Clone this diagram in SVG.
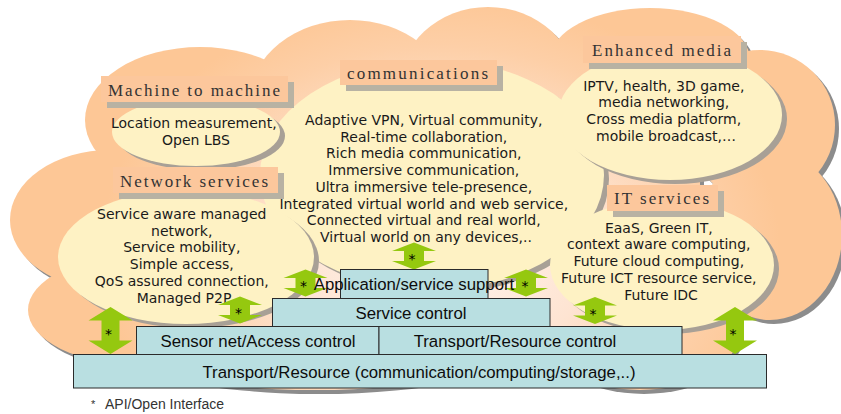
<svg xmlns="http://www.w3.org/2000/svg" xmlns:xlink="http://www.w3.org/1999/xlink" width="841" height="414" viewBox="0 0 841 414">
  <style>
    .lblbox { fill: #FCC79C; }
    .lblshadow { fill: #B8B2A3; }
    .lbl { font-family: "Liberation Serif", "DejaVu Serif", serif; font-size: 17px; fill: #333; }
    .bubble { fill: #FEF2C4; }
    .bshadow { fill: #A8A096; }
    .body { font-family: "DejaVu Sans", "Noto Sans", sans-serif; font-size: 14px; fill: #1a1a1a; text-anchor: middle; }
    .layer { fill: #B9DFE1; stroke: #2b2b2b; stroke-width: 1; }
    .ltxt { font-family: "Liberation Sans", Arial, sans-serif; font-size: 16.8px; fill: #0d0d0d; text-anchor: middle; }
    .arrow { fill: #95C80F; }
    .star { font-family: "DejaVu Sans", sans-serif; font-size: 14px; fill: #000; text-anchor: middle; }
    .note { font-family: "Liberation Sans", Arial, sans-serif; font-size: 14px; fill: #333; }
  </style>
  <defs>
    <radialGradient id="cloudFill" gradientUnits="userSpaceOnUse" cx="440" cy="250" r="340"
                    gradientTransform="translate(440 250) scale(1 0.75) translate(-440 -250)">
      <stop offset="0" stop-color="#FFF4EE"/>
      <stop offset="0.45" stop-color="#FEE4D2"/>
      <stop offset="0.8" stop-color="#FDCFA7"/>
      <stop offset="1" stop-color="#FDC796"/>
    </radialGradient>
    <!-- cloud outline built from overlapping lobes -->
    <g id="cloudShape">
      <ellipse cx="200" cy="120" rx="115" ry="73"/>
      <ellipse cx="350" cy="100" rx="100" ry="80"/>
      <ellipse cx="488" cy="90" rx="90" ry="83"/>
      <ellipse cx="650" cy="60" rx="100" ry="52"/>
      <ellipse cx="760" cy="125" rx="75" ry="75"/>
      <ellipse cx="770" cy="235" rx="72" ry="85"/>
      <ellipse cx="110" cy="220" rx="100" ry="70"/>
      <ellipse cx="140" cy="310" rx="112" ry="55"/>
      <ellipse cx="640" cy="330" rx="100" ry="60"/>
      <ellipse cx="315" cy="345" rx="200" ry="45"/>
      <rect x="118" y="100" width="582" height="282"/>
    </g>
    <path id="arrS" d="M0,-13.5 L22,-5 L10,-5 L10,5 L22,5 L0,13.5 L-22,5 L-10,5 L-10,-5 L-22,-5 Z"/>
    <path id="arrL" d="M0,-23.5 L22,-10 L9,-10 L9,10 L22,10 L0,23.5 L-22,10 L-9,10 L-9,-10 L-22,-10 Z"/>
  </defs>

  <!-- background cloud with drop shadow -->
  <g id="cloud">
    <use xlink:href="#cloudShape" fill="#8C8C8C" transform="translate(4 4)"/>
    <use xlink:href="#cloudShape" fill="url(#cloudFill)"/>
  </g>

  <!-- service bubbles -->
  <g id="communications">
    <ellipse class="bshadow" cx="437" cy="179" rx="172" ry="115"/>
    <ellipse class="bubble" cx="432" cy="175" rx="172" ry="115"/>
    <rect class="lblshadow" x="346" y="66" width="157" height="25"/>
    <rect class="lblbox" x="340" y="60" width="157" height="25"/>
    <text class="lbl" x="347" y="79" textLength="141" lengthAdjust="spacing">communications</text>
    <text class="body" x="426" y="125">
      <tspan x="426">Adaptive VPN, Virtual community,</tspan>
      <tspan x="426" dy="16.7">Real-time collaboration,</tspan>
      <tspan x="426" dy="16.7">Rich media communication,</tspan>
      <tspan x="426" dy="16.7">Immersive communication,</tspan>
      <tspan x="426" dy="16.7">Ultra immersive tele-presence,</tspan>
      <tspan x="426" dy="16.7">Integrated virtual world and web service,</tspan>
      <tspan x="426" dy="16.7">Connected virtual and real world,</tspan>
      <tspan x="426" dy="16.7">Virtual world on any devices,..</tspan>
    </text>
  </g>

  <g id="enhanced-media">
    <ellipse class="bshadow" cx="675" cy="119" rx="112" ry="65"/>
    <ellipse class="bubble" cx="670" cy="115" rx="112" ry="65"/>
    <rect class="lblshadow" x="589" y="42" width="158" height="27"/>
    <rect class="lblbox" x="583" y="36" width="158" height="27"/>
    <text class="lbl" x="592" y="56" textLength="139" lengthAdjust="spacing">Enhanced media</text>
    <text class="body" x="666" y="90.7">
      <tspan x="666">IPTV, health, 3D game,</tspan>
      <tspan x="666" dy="16.7">media networking,</tspan>
      <tspan x="666" dy="16.7">Cross media platform,</tspan>
      <tspan x="666" dy="16.7">mobile broadcast,…</tspan>
    </text>
  </g>

  <g id="it-services">
    <ellipse class="bshadow" cx="667" cy="269" rx="112" ry="65"/>
    <ellipse class="bubble" cx="662" cy="265" rx="112" ry="65"/>
    <rect class="lblshadow" x="613" y="191" width="111" height="26"/>
    <rect class="lblbox" x="607" y="185" width="111" height="26"/>
    <text class="lbl" x="614" y="204" textLength="95" lengthAdjust="spacing">IT services</text>
    <text class="body" x="661" y="232.7">
      <tspan x="661">EaaS, Green IT,</tspan>
      <tspan x="661" dy="16.7">context aware computing,</tspan>
      <tspan x="661" dy="16.7">Future cloud computing,</tspan>
      <tspan x="661" dy="16.7">Future ICT resource service,</tspan>
      <tspan x="661" dy="16.7">Future IDC</tspan>
    </text>
  </g>

  <g id="machine-to-machine">
    <ellipse class="bshadow" cx="201" cy="136" rx="84" ry="34"/>
    <ellipse class="bubble" cx="196" cy="132" rx="84" ry="34"/>
    <rect class="lblshadow" x="107" y="82" width="187" height="26"/>
    <rect class="lblbox" x="101" y="76" width="187" height="26"/>
    <text class="lbl" x="108" y="96" textLength="172" lengthAdjust="spacing">Machine to machine</text>
    <text class="body" x="196" y="128">
      <tspan x="196">Location measurement,</tspan>
      <tspan x="196" dy="16.5">Open LBS</tspan>
    </text>
  </g>

  <g id="network-services">
    <ellipse class="bshadow" cx="191" cy="261" rx="128" ry="67"/>
    <ellipse class="bubble" cx="186" cy="257" rx="128" ry="67"/>
    <rect class="lblshadow" x="119" y="173" width="165" height="26"/>
    <rect class="lblbox" x="113" y="167" width="165" height="26"/>
    <text class="lbl" x="120" y="187" textLength="148" lengthAdjust="spacing">Network services</text>
    <text class="body" x="184" y="219">
      <tspan x="184">Service aware managed</tspan>
      <tspan x="184" dy="16.7">network,</tspan>
      <tspan x="184" dy="16.7">Service mobility,</tspan>
      <tspan x="184" dy="16.7">Simple access,</tspan>
      <tspan x="184" dy="16.7">QoS assured connection,</tspan>
      <tspan x="184" dy="16.7">Managed P2P</tspan>
    </text>
  </g>

  <!-- API / open interface connectors -->
  <g id="connectors">
    <use xlink:href="#arrL" class="arrow" x="110.5" y="330.5"/>
    <use xlink:href="#arrS" class="arrow" x="240" y="310"/>
    <use xlink:href="#arrS" class="arrow" x="305.5" y="283"/>
    <use xlink:href="#arrS" class="arrow" x="414" y="256"/>
    <use xlink:href="#arrS" class="arrow" x="526" y="283"/>
    <use xlink:href="#arrS" class="arrow" x="595" y="310.5"/>
    <use xlink:href="#arrL" class="arrow" x="735" y="330.5"/>
    <text class="star" x="108.5" y="338.5">*</text>
    <text class="star" x="238.5" y="318">*</text>
    <text class="star" x="303.5" y="291">*</text>
    <text class="star" x="412" y="264">*</text>
    <text class="star" x="525" y="291">*</text>
    <text class="star" x="593" y="318.5">*</text>
    <text class="star" x="733" y="338.5">*</text>
  </g>

  <!-- layered platform -->
  <g id="transport-resource">
    <rect class="layer" x="73.5" y="354.5" width="693" height="33.5"/>
    <text class="ltxt" x="419" y="378">Transport/Resource (communication/computing/storage,..)</text>
  </g>
  <g id="sensor-access-control">
    <rect class="layer" x="136.5" y="326.5" width="242.5" height="28"/>
    <text class="ltxt" x="258" y="347">Sensor net/Access control</text>
  </g>
  <g id="transport-resource-control">
    <rect class="layer" x="379" y="326.5" width="303" height="28"/>
    <text class="ltxt" x="515" y="347">Transport/Resource control</text>
  </g>
  <g id="service-control">
    <rect class="layer" x="272.5" y="298.5" width="277.5" height="28"/>
    <text class="ltxt" x="411" y="319">Service control</text>
  </g>
  <g id="application-support">
    <rect class="layer" x="340.5" y="269.5" width="147.5" height="29"/>
    <text class="ltxt" x="414" y="290">Application/service support</text>
  </g>

  <!-- footnote -->
  <text class="note" x="91" y="409"><tspan font-size="11" dy="-1">*</tspan><tspan x="105" dy="1">API/Open Interface</tspan></text>
</svg>
